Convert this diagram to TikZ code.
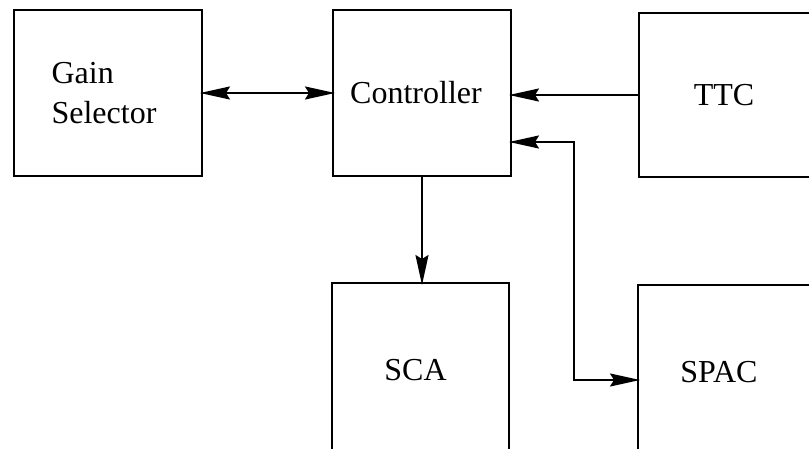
\documentclass[tikz,border=0pt]{standalone}
\usepackage{fontspec}
\setmainfont{Liberation Serif}
\usetikzlibrary{arrows.meta, positioning}

\begin{document}
\begin{tikzpicture}[x=1pt, y=-1pt,
    block/.style={draw, line width=1.6pt, minimum width=180pt, minimum height=165pt,
      font=\fontsize{32}{40}\selectfont, align=left, inner sep=0pt, outer sep=0pt},
    arrow/.style={-{Stealth[length=30pt, width=13pt, inset=4pt]}, line width=2pt, shorten >=-2pt},
    twoway/.style={{Stealth[length=30pt, width=13pt, inset=4pt]}-{Stealth[length=30pt, width=13pt, inset=4pt]},
      line width=2pt, shorten >=-2pt, shorten <=-2pt}
  ]
  \clip (0,0) rectangle (809,449);

  % --- TOP ROW ---
  \node[block, minimum width=188pt, minimum height=166pt] (gain) at (108,93) {Gain\\Selector\hspace*{8pt}};
  \node[block, minimum width=178pt, minimum height=166pt] (ctrl) at (422,93) {Controller\hspace*{12pt}};
  \node[block, minimum height=164pt] (ttc) at (729,95) {TTC\hspace*{10pt}};

  % --- BOTTOM ROW (cut off at the page edge) ---
  \node[block, minimum width=177pt, minimum height=174pt] (sca) at (420.5,370) {SCA\hspace*{10pt}};
  \node[block, minimum height=174pt] (spac) at (728,372) {SPAC\hspace*{18pt}};

  % --- CONNECTIONS ---
  \draw[twoway] (gain) -- (ctrl);
  \draw[arrow] (ttc.west) -- (ctrl.east |- ttc.west);
  \draw[arrow] (ctrl.south) -- (ctrl.south |- sca.north);

  \coordinate (tap) at (574,142);
  \coordinate (drop) at (574,380);
  \draw[twoway] (ctrl.east |- tap) -- (tap) -- (drop) -- (spac.west |- drop);
\end{tikzpicture}
\end{document}
